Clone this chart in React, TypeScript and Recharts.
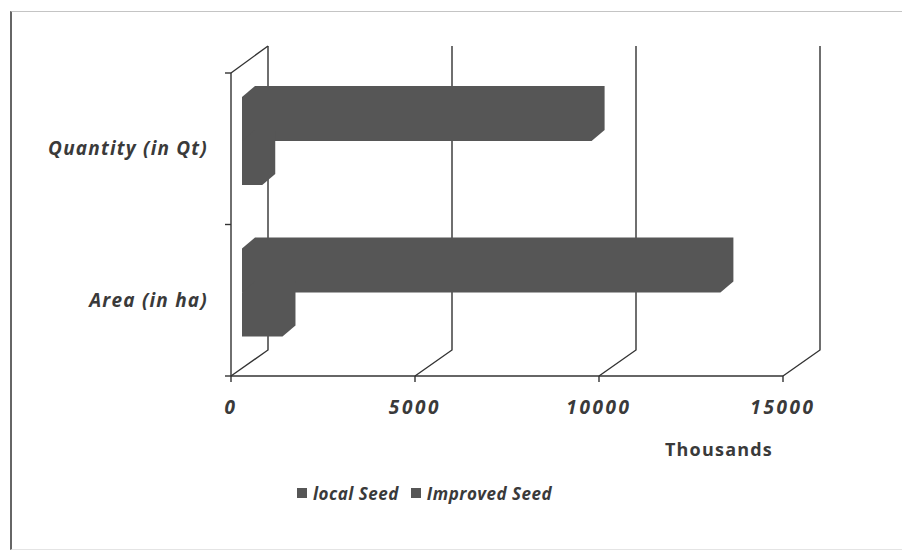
import { BarChart, Bar, XAxis, YAxis, CartesianGrid, Legend } from "recharts";

const categories = ["Quantity (in Qt)", "Area (in ha)"];
const localSeed = [550, 1100];
const improvedSeed = [9500, 13000];
const xTicks = [0, 5000, 10000, 15000];
const seriesNames = ["local Seed", "Improved Seed"];

const data = categories.map((name, i) => ({
  name,
  local: localSeed[i],
  improved: improvedSeed[i],
}));

const BAR_FILL = "#565656";
const INK = "#3a3a3a";
const FONT = "'Open Sans', sans-serif";
// fake 3D: depth of the wall and of the bars
const WALL_DX = 37;
const WALL_DY = 27;
const BAR_DX = 13;
const BAR_DY = 11;

const Bar3D = (props: any) => {
  const { x, y, width, height, fill } = props;
  const x0 = x + 11;
  const yt = y - 8;
  const pts = [
    [x0, yt],
    [x0 + BAR_DX, yt - BAR_DY],
    [x0 + width + BAR_DX, yt - BAR_DY],
    [x0 + width + BAR_DX, yt + height - BAR_DY],
    [x0 + width, yt + height],
    [x0, yt + height],
  ];
  return <polygon points={pts.map((p) => p.join(",")).join(" ")} fill={fill} />;
};

const gridLine = (props: any) => {
  const { x1, y1, y2, index } = props;
  const path = `M${x1 + WALL_DX},${y1 - WALL_DY} L${x1 + WALL_DX},${y2 - WALL_DY + 1} L${x1},${y2}`;
  return (
    <g key={`g-${index}`}>
      <path d={path} fill="none" stroke="#333" strokeWidth={1.4} />
      {index === 0 && (
        <>
          <line x1={x1} y1={y1} x2={x1 + WALL_DX} y2={y1 - WALL_DY} stroke="#333" strokeWidth={1.4} />
          {categories.concat([""]).map((_, i) => {
            const yy = y1 + (i * (y2 - y1)) / categories.length;
            return <line key={i} x1={x1 - 6} y1={yy} x2={x1} y2={yy} stroke="#333" strokeWidth={1.4} />;
          })}
        </>
      )}
    </g>
  );
};

const CatTick = (props: any) => {
  const { x, y, payload } = props;
  return (
    <text x={x - 23} y={y} dy="0.35em" textAnchor="end" fill={INK} fontFamily={FONT}
      fontSize={19} fontWeight={700} fontStyle="italic" letterSpacing={1.2}>
      {payload.value}
    </text>
  );
};

const LegendBox = () => (
  <div style={{ display: "flex", alignItems: "center", fontFamily: FONT, fontSize: 17, fontWeight: 700, fontStyle: "italic", color: INK, letterSpacing: 0.5, height: 26 }}>
    {seriesNames.map((n, i) => (
      <span key={n} style={{ display: "flex", alignItems: "center", marginRight: i === 0 ? 12 : 0 }}>
        <span style={{ width: 10, height: 10, background: BAR_FILL, marginRight: 6, display: "inline-block" }} />
        {n}
      </span>
    ))}
  </div>
);

export default function App() {
  return (
    <div style={{ position: "absolute", left: 0, top: 0, width: 902, height: 551, background: "#fff" }}>
      <div style={{ position: "absolute", left: 10, top: 11, width: 890, height: 537, borderLeft: "2px solid #666", borderTop: "1px solid #c4c4c4", borderBottom: "1px solid #e4e4e4" }} />
      <BarChart width={902} height={551} data={data} layout="vertical" barGap={0}
        margin={{ top: 73, right: 119, left: 31, bottom: 59 }}>
        <CartesianGrid horizontal={false} vertical={gridLine} />
        <XAxis type="number" domain={[0, 15000]} ticks={xTicks} interval={0} height={90}
          axisLine={{ stroke: "#333", strokeWidth: 1.4 }} tickLine={{ stroke: "#333", strokeWidth: 1.4 }}
          tickSize={6} tickMargin={19}
          tick={{ fill: INK, fontFamily: FONT, fontSize: 19, fontWeight: 700, fontStyle: "italic", letterSpacing: 2.6 }}
          label={{ value: "Thousands", position: "insideBottomRight", offset: 10, fill: INK, fontFamily: FONT, fontSize: 18, fontWeight: 700, letterSpacing: 1.2 }} />
        <YAxis type="category" dataKey="name" width={200} tickLine={false} tickSize={0} tickMargin={0}
          axisLine={{ stroke: "#333", strokeWidth: 1.4 }} tick={<CatTick />} />
        <Legend verticalAlign="bottom" content={<LegendBox />}
          wrapperStyle={{ top: 480, bottom: "auto", left: 297, width: 320, height: 26 }} />
        <Bar dataKey="improved" name="Improved Seed" fill={BAR_FILL} barSize={44} shape={<Bar3D />} isAnimationActive={false} />
        <Bar dataKey="local" name="local Seed" fill={BAR_FILL} barSize={44} shape={<Bar3D />} isAnimationActive={false} />
      </BarChart>
    </div>
  );
}
